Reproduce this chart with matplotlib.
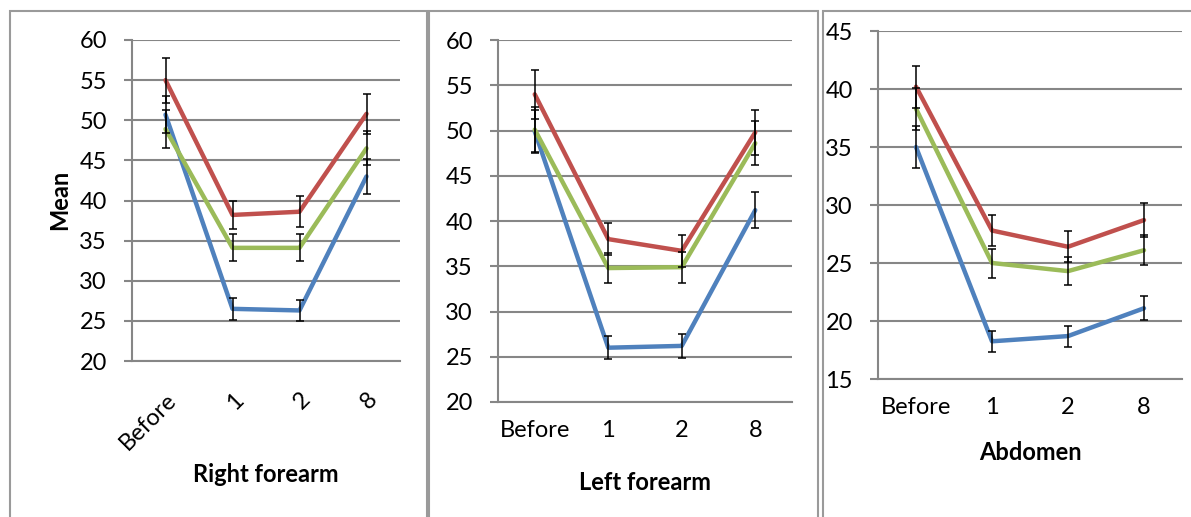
import matplotlib
matplotlib.use('Agg')
import matplotlib.pyplot as plt
from matplotlib.patches import Rectangle
import numpy as np

plt.rcParams['font.family'] = ['Lato', 'DejaVu Sans']

categories = ['Before', '1', '2', '8']

# Right forearm
rf_blue = [50.7, 26.5, 26.3, 43.0]
rf_blue_err = [2.3, 1.35, 1.3, 2.2]
rf_red = [55.0, 38.2, 38.6, 50.8]
rf_red_err = [2.8, 1.8, 1.9, 2.5]
rf_green = [48.9, 34.1, 34.1, 46.5]
rf_green_err = [2.4, 1.7, 1.7, 2.1]

# Left forearm
lf_blue = [49.9, 26.0, 26.2, 41.2]
lf_blue_err = [2.4, 1.3, 1.3, 2.0]
lf_red = [54.0, 38.0, 36.7, 49.8]
lf_red_err = [2.7, 1.8, 1.8, 2.5]
lf_green = [50.1, 34.8, 34.9, 48.6]
lf_green_err = [2.5, 1.7, 1.7, 2.4]

# Abdomen
ab_blue = [35.0, 18.25, 18.7, 21.1]
ab_blue_err = [1.8, 0.9, 0.9, 1.05]
ab_red = [40.2, 27.8, 26.4, 28.7]
ab_red_err = [1.8, 1.3, 1.35, 1.45]
ab_green = [38.3, 25.0, 24.3, 26.1]
ab_green_err = [1.8, 1.25, 1.2, 1.3]

BLUE = '#4F81BD'
RED = '#C0504D'
GREEN = '#9BBB59'
GRID = '#868686'

W, H = 1191, 517
fig = plt.figure(figsize=(W / 100, H / 100), dpi=100)

def px_axes(x0, y0, x1, y1):
    # pixel box (top-left origin) -> figure fraction
    return fig.add_axes([x0 / W, 1 - y1 / H, (x1 - x0) / W, (y1 - y0) / H])

# panel frames
for (x0, x1) in [(10, 427), (429, 818), (823, 1195)]:
    fig.patches.append(Rectangle((x0 / W, -0.05), (x1 - x0) / W, 1 - 11 / H + 0.05,
                                 transform=fig.transFigure, fill=False,
                                 edgecolor='#9a9a9a', lw=1.5))

panels = [
    (px_axes(132, 40, 400, 361), (20, 60), 'Right forearm', (266, 475),
     [(rf_blue, rf_blue_err, BLUE), (rf_red, rf_red_err, RED), (rf_green, rf_green_err, GREEN)], True),
    (px_axes(498, 40, 792, 402), (20, 60), 'Left forearm', (645, 482),
     [(lf_blue, lf_blue_err, BLUE), (lf_red, lf_red_err, RED), (lf_green, lf_green_err, GREEN)], False),
    (px_axes(878, 31, 1182, 379), (15, 45), 'Abdomen', (1030, 453),
     [(ab_blue, ab_blue_err, BLUE), (ab_red, ab_red_err, RED), (ab_green, ab_green_err, GREEN)], False),
]

x = np.arange(len(categories)) + 0.5
for ax, (lo, hi), title, (tx, ty), series, rotated in panels:
    for vals, err, col in series:
        ax.plot(x, vals, color=col, lw=3.2, solid_capstyle='round', zorder=3, clip_on=False)
    for vals, err, col in series:
        ax.errorbar(x, vals, yerr=err, fmt='none', ecolor='black', elinewidth=1.1,
                    capsize=2.7, capthick=1.1, zorder=4, clip_on=False)
    ax.set_xlim(0, 4)
    ax.set_ylim(lo, hi)
    ax.set_yticks(np.arange(lo, hi + 1, 5))
    ax.set_xticks(x)
    ax.yaxis.grid(True, color=GRID, lw=1.5)
    ax.set_axisbelow(True)
    for s in ['top', 'right']:
        ax.spines[s].set_visible(False)
    for s in ['left', 'bottom']:
        ax.spines[s].set_color(GRID)
        ax.spines[s].set_linewidth(1.5)
    ax.tick_params(axis='y', length=6, width=1.5, color=GRID, pad=12, labelsize=17)
    ax.tick_params(axis='x', length=0, labelsize=17, pad=13)
    if rotated:
        ax.set_xticklabels(categories, rotation=45, ha='right', rotation_mode='anchor')
        ax.tick_params(axis='x', pad=20)
    else:
        ax.set_xticklabels(categories)
    fig.text(tx / W, 1 - ty / H, title, ha='center', va='center', fontsize=17, fontweight='bold')

fig.text(60 / W, 1 - 200 / H, 'Mean', ha='center', va='center', rotation=90,
         fontsize=17, fontweight='bold')

fig.savefig('out.png', dpi=100)
